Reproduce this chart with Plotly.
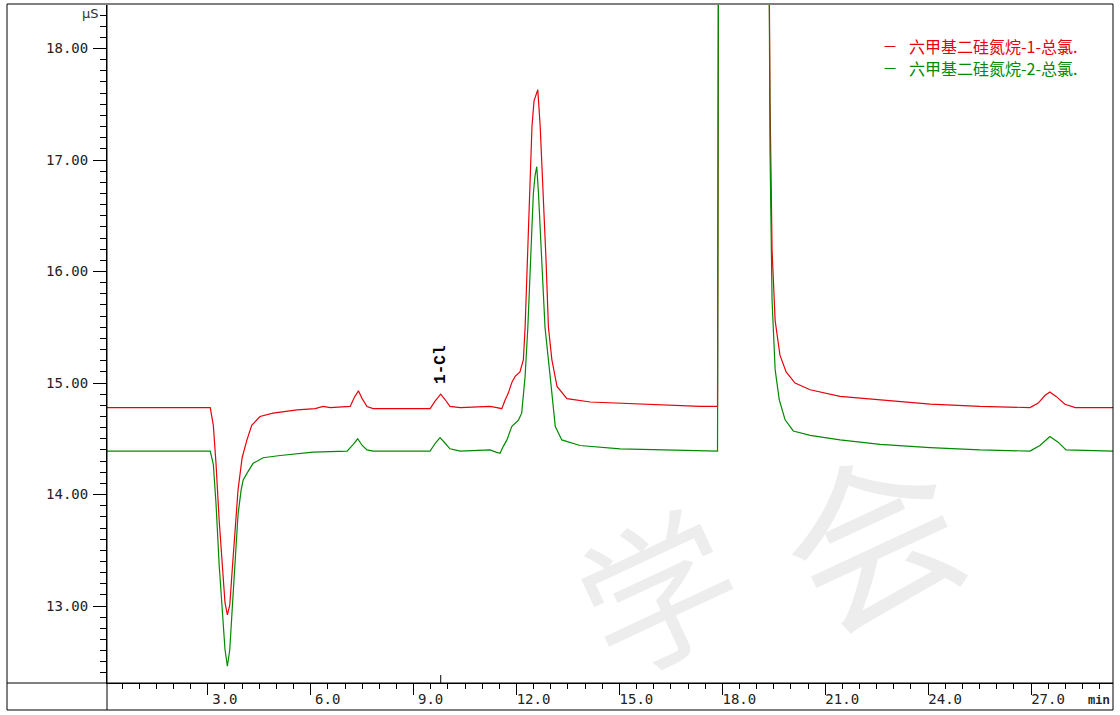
import plotly.graph_objects as go

# ---------------- data (minutes, µS) ----------------
series_names = ["六甲基二硅氮烷-1-总氯.", "六甲基二硅氮烷-2-总氯."]
series_colors = ["#e8000b", "#008a00"]

red_time = [0.05, 3.0, 3.07, 3.16, 3.24, 3.33, 3.42, 3.50, 3.57, 3.64, 3.71, 3.80, 3.88,
            4.00, 4.14, 4.28, 4.52, 4.90, 5.60, 6.13, 6.36, 6.57, 7.15, 7.27, 7.39, 7.50,
            7.64, 7.82, 9.48, 9.63, 9.79, 9.92, 10.06, 10.36, 11.23, 11.43, 11.57, 11.67,
            11.76, 11.87, 11.96, 12.10, 12.20, 12.25, 12.32, 12.38, 12.45, 12.51, 12.62,
            12.69, 12.78, 12.86, 12.93, 13.03, 13.18, 13.47, 14.15, 15.02, 16.19, 17.35,
            17.80, 17.86, 17.90, 18.30, 18.90, 19.30, 19.36, 19.39, 19.45, 19.54, 19.68,
            19.86, 20.12, 20.56, 21.43, 22.60, 24.06, 25.51, 26.97, 27.21, 27.41, 27.55,
            27.73, 27.99, 28.29, 29.39]
red_value = [14.78, 14.78, 14.78, 14.62, 14.27, 13.77, 13.32, 13.03, 12.92, 13.01, 13.32,
             13.73, 14.04, 14.33, 14.49, 14.62, 14.70, 14.73, 14.76, 14.77, 14.79, 14.78,
             14.79, 14.87, 14.93, 14.86, 14.79, 14.77, 14.77, 14.84, 14.90, 14.85, 14.79,
             14.78, 14.79, 14.78, 14.77, 14.85, 14.91, 15.01, 15.06, 15.10, 15.21, 15.50,
             16.10, 16.70, 17.30, 17.53, 17.63, 17.30, 16.70, 16.10, 15.50, 15.21, 14.97,
             14.86, 14.83, 14.82, 14.80, 14.79, 14.79, 14.79, 21.0, 26.0, 24.0, 20.5,
             19.0, 17.54, 16.19, 15.56, 15.25, 15.10, 15.00, 14.94, 14.88, 14.85, 14.81,
             14.79, 14.78, 14.82, 14.89, 14.92, 14.88, 14.81, 14.78, 14.78]

green_time = [0.05, 3.0, 3.07, 3.16, 3.24, 3.33, 3.42, 3.50, 3.57, 3.64, 3.71, 3.80, 3.88,
              3.97, 4.03, 4.14, 4.32, 4.61, 5.11, 6.07, 7.06, 7.24, 7.37, 7.50, 7.64, 7.82,
              9.48, 9.63, 9.77, 9.92, 10.06, 10.36, 11.23, 11.40, 11.52, 11.61, 11.72,
              11.86, 12.06, 12.15, 12.25, 12.33, 12.42, 12.49, 12.54, 12.59, 12.64, 12.74,
              12.83, 12.98, 13.13, 13.32, 13.85, 15.02, 16.19, 17.80, 17.86, 17.90, 18.30,
              18.90, 19.30, 19.36, 19.39, 19.45, 19.54, 19.66, 19.83, 20.07, 20.56, 21.43,
              22.60, 24.06, 25.51, 26.97, 27.26, 27.55, 27.79, 28.02, 29.39]
green_value = [14.39, 14.39, 14.39, 14.27, 13.91, 13.37, 12.92, 12.61, 12.46, 12.61, 12.97,
               13.41, 13.82, 14.04, 14.13, 14.19, 14.28, 14.33, 14.35, 14.38, 14.39, 14.45,
               14.50, 14.44, 14.40, 14.39, 14.39, 14.46, 14.51, 14.46, 14.41, 14.39, 14.40,
               14.38, 14.37, 14.43, 14.49, 14.61, 14.67, 14.73, 15.06, 15.50, 16.10, 16.70,
               16.86, 16.94, 16.70, 16.10, 15.50, 15.06, 14.61, 14.49, 14.44, 14.41, 14.40,
               14.39, 14.39, 21.0, 26.0, 24.0, 20.5, 19.0, 17.09, 15.74, 15.12, 14.85,
               14.67, 14.57, 14.53, 14.49, 14.45, 14.42, 14.40, 14.39, 14.44, 14.52, 14.47,
               14.40, 14.39]

x_tick_vals = [3, 6, 9, 12, 15, 18, 21, 24, 27]
x_tick_text = ["3.0", "6.0", "9.0", "12.0", "15.0", "18.0", "21.0", "24.0", "27.0"]
y_tick_vals = [13, 14, 15, 16, 17, 18]
y_tick_text = ["13.00", "14.00", "15.00", "16.00", "17.00", "18.00"]
x_range = [0.06, 29.39]
y_range = [12.31, 18.39]

peak_labels = ["1-Cl"]
peak_times = [9.79]
peak_label_y = [15.16]

# ---------------- figure ----------------
W, H = 1120, 715
ML, MR, MT, MB = 107, 7, 5, 32
PW, PH = W - ML - MR, H - MT - MB


def px(xp):
    return (xp - ML) / PW


def py(yp):
    return (H - MB - yp) / PH


fig = go.Figure()
fig.add_trace(go.Scatter(x=red_time, y=red_value, mode="lines", name=series_names[0],
                         line=dict(color=series_colors[0], width=1.2), showlegend=False))
fig.add_trace(go.Scatter(x=green_time, y=green_value, mode="lines", name=series_names[1],
                         line=dict(color=series_colors[1], width=1.2), showlegend=False))

tick_font = dict(family="DejaVu Sans Mono", size=14, color="#222222")

fig.update_layout(
    width=W, height=H,
    margin=dict(l=ML, r=MR, t=MT, b=MB, pad=0),
    paper_bgcolor="white", plot_bgcolor="white",
    showlegend=False,
    xaxis=dict(range=x_range, showgrid=False, zeroline=False, showline=True,
               linecolor="black", linewidth=1, ticks="outside", ticklen=11,
               tickcolor="black", tickwidth=1, tickmode="array",
               tickvals=x_tick_vals, ticktext=x_tick_text, tickfont=tick_font,
               ticklabelshift=17, ticklabelstandoff=-8,
               minor=dict(ticks="outside", ticklen=5, tickcolor="black", tick0=0,
                          dtick=0.5, showgrid=False)),
    yaxis=dict(range=y_range, showgrid=False, zeroline=False, showline=True,
               linecolor="black", linewidth=1, ticks="outside", ticklen=13,
               tickcolor="black", tickwidth=1, tickmode="array",
               tickvals=y_tick_vals, ticktext=y_tick_text, tickfont=tick_font,
               ticklabelstandoff=2,
               minor=dict(ticks="outside", ticklen=6, tickcolor="black", tick0=0,
                          dtick=0.1, showgrid=False)),
)

# frame
shapes = [
    dict(type="rect", xref="paper", yref="paper", x0=px(7), x1=px(1113), y0=py(710), y1=py(4),
         line=dict(color="black", width=1), fillcolor="rgba(0,0,0,0)", layer="above"),
    dict(type="line", xref="paper", yref="paper", x0=px(7), x1=1, y0=0, y1=0,
         line=dict(color="black", width=1)),
    dict(type="line", xref="paper", yref="paper", x0=0, x1=0, y0=py(710), y1=1,
         line=dict(color="black", width=1)),
]
for t in peak_times:
    shapes.append(dict(type="line", xref="x", yref="paper", x0=t, x1=t, y0=0, y1=8 / PH,
                       line=dict(color="black", width=1)))
fig.update_layout(shapes=shapes)

annotations = []
# watermark (faint, translucent so axis text stays visible)
wm_color = "rgba(0,0,0,0.07)"
annotations.append(dict(text="学", xref="paper", yref="paper", x=px(655), y=py(585),
                         xanchor="center", yanchor="middle",
                         showarrow=False, textangle=-25,
                         font=dict(family="Noto Sans CJK SC", size=155, color=wm_color)))
annotations.append(dict(text="会", xref="paper", yref="paper", x=px(868), y=py(530),
                         xanchor="center", yanchor="middle",
                         showarrow=False, textangle=-25,
                         font=dict(family="Noto Sans CJK SC", size=175, color=wm_color)))
# peak labels
for lab, t, yv in zip(peak_labels, peak_times, peak_label_y):
    annotations.append(dict(text="<b>%s</b>" % lab, x=t, y=yv, xref="x", yref="y",
                            showarrow=False, textangle=-90, xanchor="center", yanchor="middle",
                            font=dict(family="Liberation Mono", size=16, color="black")))
# unit labels
annotations.append(dict(text="μS", xref="paper", yref="paper", x=px(101), y=py(13),
                        xanchor="right", yanchor="middle", showarrow=False,
                        font=dict(family="DejaVu Sans", size=13, color="#333333")))
annotations.append(dict(text="<b>min</b>", xref="paper", yref="paper", x=px(1099), y=py(701),
                        xanchor="center", yanchor="middle", showarrow=False,
                        font=dict(family="Liberation Mono", size=12, color="#222222")))
# legend
for i, (nm, col) in enumerate(zip(series_names, series_colors)):
    yy = py(45.5 + 22 * i)
    annotations.append(dict(text="—", xref="paper", yref="paper", x=px(882), y=yy,
                            xanchor="left", yanchor="middle", showarrow=False,
                            font=dict(family="DejaVu Sans", size=12, color=col)))
    annotations.append(dict(text=nm, xref="paper", yref="paper", x=px(907), y=yy,
                            xanchor="left", yanchor="middle", showarrow=False,
                            font=dict(family="Noto Sans CJK SC", size=16, color=col)))
fig.update_layout(annotations=annotations)

fig.write_html("out.html")
